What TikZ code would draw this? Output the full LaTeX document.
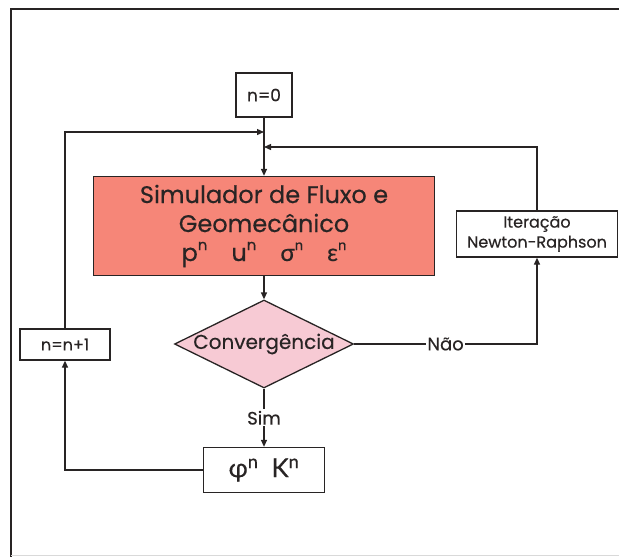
\documentclass[tikz,border=0pt]{standalone}
\usepackage{fontspec}
\setmainfont{Poppins}[FakeBold=0.4]
\newfontfamily\grk{Lato}[FakeBold=0.4]
\usetikzlibrary{shapes.geometric,arrows.meta}

\definecolor{simfill}{RGB}{246,134,120}
\definecolor{convfill}{RGB}{247,202,212}
\definecolor{ink}{RGB}{40,36,36}

\tikzset{
  line/.style={draw=ink, line width=1.3pt},
  arr/.style={line, -{Triangle[length=7pt,width=6pt]}},
  box/.style={draw=ink, line width=1.3pt, fill=white, inner sep=0pt, align=center, text=ink},
  lbl/.style={fill=white, inner sep=1.5pt, text=ink, font=\fontsize{18}{20}\selectfont}
}
\newcommand{\pw}[1]{#1\raisebox{0.45em}{\fontsize{15}{15}\selectfont n}}

\begin{document}
\begin{tikzpicture}[x=1pt,y=-1pt]
\useasboundingbox (0,0) rectangle (619,557);
\clip (0,0) rectangle (619,557);

% outer frame
\draw[line width=2pt, ink] (11,570) -- (11,9) -- (640,9);
\draw[line width=0.6pt, black!15] (11,555) -- (640,555);

% blocks
\node[box, minimum width=56, minimum height=44, font=\fontsize{17}{19}\selectfont] (n0) at (264,95) {n=0};
\node[box, fill=simfill, minimum width=341, minimum height=99,
      font=\fontsize{24}{29}\selectfont] (sim) at (264,226)
  {Simulador de Fluxo e\\Geomecânico\\\pw{p}\quad\pw{u}\quad\pw{\grk σ}\quad\pw{\grk ε}};
\node[diamond, draw=ink, line width=1.3pt, fill=convfill, inner sep=0pt,
      minimum width=179, minimum height=88, text=ink,
      font=\fontsize{20}{22}\selectfont] (conv) at (264,344) {\makebox[0pt]{Convergência}};
\node[box, minimum width=161, minimum height=46, font=\fontsize{16}{20}\selectfont] (newton) at (537,234)
  {Iteração\\Newton-Raphson};
\node[box, minimum width=90, minimum height=31, font=\fontsize{16}{18}\selectfont] (nn1) at (65,344.5) {n=n+1};
\node[box, minimum width=121, minimum height=45, font=\fontsize{26}{28}\selectfont] (phi) at (264,470)
  {\grk φ\textsuperscript{n}\enspace K\textsuperscript{n}};

% junctions on the main vertical line
\coordinate (jl) at (264,132);
\coordinate (jr) at (264,147);

% connectors
\draw[arr] (n0) -- (sim);
\draw[arr] (sim) -- (conv);
\draw[arr] (conv) -- node[lbl] {Sim} (phi);
\draw[arr] (conv.east) -| node[lbl, pos=0.25] {Não} (newton.south);
\draw[arr] (newton.north) |- (jr);
\draw[arr] (phi.west) -| (nn1.south);
\draw[arr] (nn1.north) |- (jl);
\end{tikzpicture}
\end{document}
